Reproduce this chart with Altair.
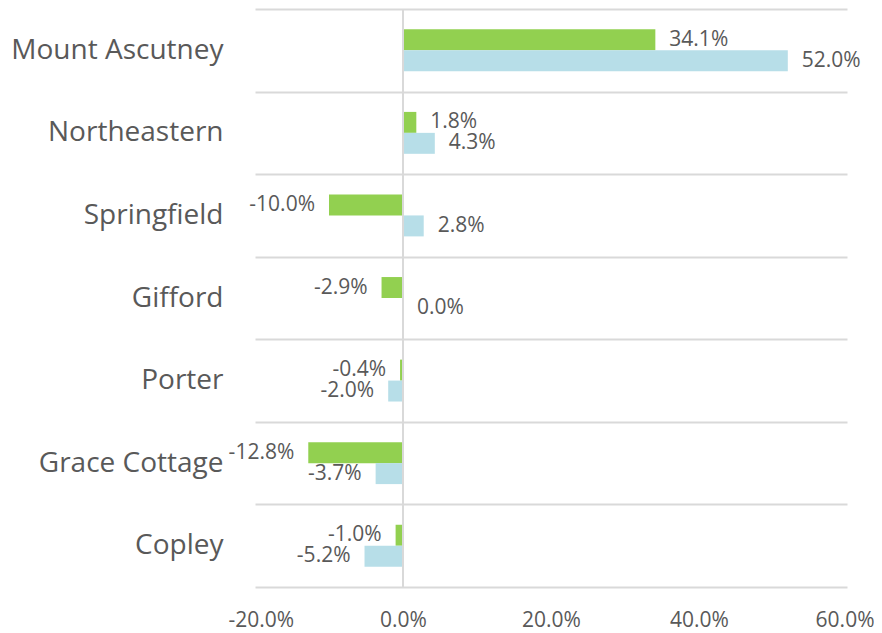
import altair as alt
import pandas as pd

categories = ["Mount Ascutney", "Northeastern", "Springfield", "Gifford", "Porter", "Grace Cottage", "Copley"]
series_names = ["Series 1", "Series 2"]
green_values = [34.1, 1.8, -10.0, -2.9, -0.4, -12.8, -1.0]
blue_values = [52.0, 4.3, 2.8, 0.0, -2.0, -3.7, -5.2]
x_ticks = [-0.2, 0.0, 0.2, 0.4, 0.6]

rows = []
for c, g, b in zip(categories, green_values, blue_values):
    rows.append({"cat": c, "series": series_names[0], "v": g / 100})
    rows.append({"cat": c, "series": series_names[1], "v": b / 100})
df = pd.DataFrame(rows)

FONT = "Open Sans"
TXT = "#595959"
HYPHEN = "replace(format(datum.v, '.1%'), '\u2212', '-')"

y_enc = alt.Y("cat:N", sort=categories,
              scale=alt.Scale(paddingInner=0, paddingOuter=0),
              axis=alt.Axis(title=None, ticks=False, domain=False, labelFontSize=28,
                            labelColor=TXT, labelFont=FONT, labelPadding=32, labelLimit=400,
                            grid=True, tickBand="extent", gridColor="#D9D9D9", gridWidth=2))
yoff = alt.YOffset("series:N", sort=series_names,
                   scale=alt.Scale(paddingInner=0, paddingOuter=0.97))
x_enc = alt.X("v:Q", scale=alt.Scale(domain=[-0.2, 0.6], nice=False),
              axis=alt.Axis(title=None, format=".1%", values=x_ticks, grid=False, ticks=False,
                            domain=False, labelFontSize=21, labelColor=TXT, labelFont=FONT,
                            labelPadding=22, labelFlush=True, labelFlushOffset=27,
                            labelExpr="replace(datum.label, '\u2212', '-')"))

base = alt.Chart(df).transform_calculate(lbl=HYPHEN)

bars = base.mark_bar().encode(
    x=x_enc, y=y_enc, yOffset=yoff,
    color=alt.Color("series:N", sort=series_names,
                    scale=alt.Scale(domain=series_names, range=["#92D050", "#B7DEE8"]),
                    legend=None),
)

zero = alt.Chart(pd.DataFrame({"z": [0.0]})).mark_rule(color="#D9D9D9", strokeWidth=2).encode(
    x=alt.X("z:Q", scale=alt.Scale(domain=[-0.2, 0.6], nice=False)))

pos_text = base.transform_filter("datum.v >= 0").mark_text(
    align="left", dx=14, fontSize=21, font=FONT, color=TXT, baseline="middle").encode(
    x="v:Q", y=alt.Y("cat:N", sort=categories), yOffset=yoff,
    text="lbl:N")

neg_text = base.transform_filter("datum.v < 0").mark_text(
    align="right", dx=-14, fontSize=21, font=FONT, color=TXT, baseline="middle").encode(
    x="v:Q", y=alt.Y("cat:N", sort=categories), yOffset=yoff,
    text="lbl:N")

chart = alt.layer(bars, zero, pos_text, neg_text).properties(
    width=592, height=578,
    padding={"left": 247, "top": 1, "right": 27, "bottom": 45},
    autosize="none",
).configure_view(stroke=None)

chart.save("out.html", embed_options={"renderer": "svg", "actions": False})
